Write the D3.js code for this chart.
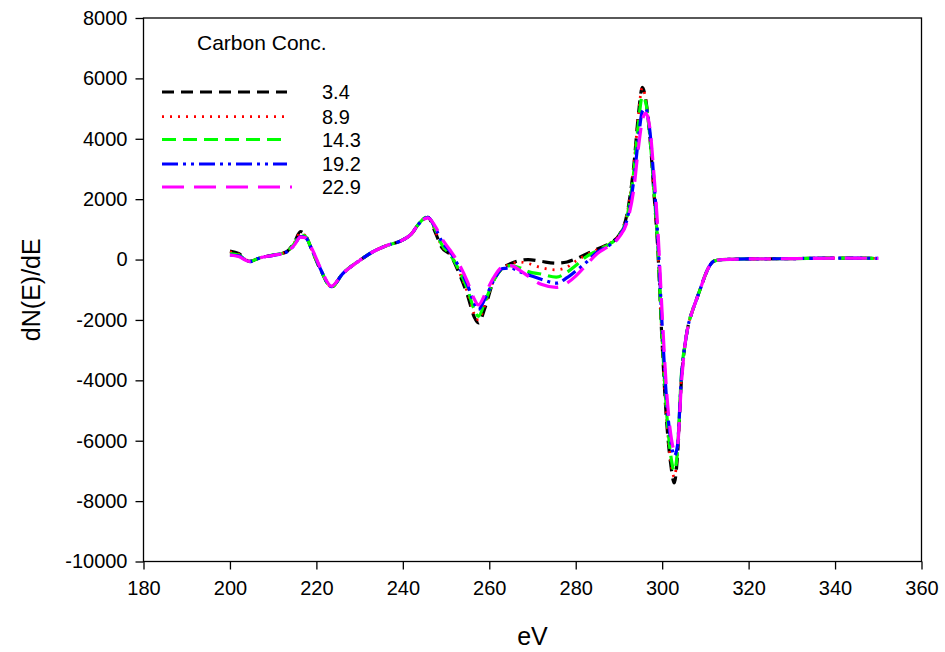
<!DOCTYPE html>
<html>
<head>
<meta charset="utf-8">
<script src="https://cdn.jsdelivr.net/npm/d3@7"></script>
<style>
html, body { margin: 0; padding: 0; background: #fff; }
svg { display: block; font-family: "Liberation Sans", Arial, sans-serif; }
</style>
</head>
<body>
<svg id="chart" width="945" height="652"></svg>
<script>
// ---- data ----
const eV = [200, 202, 204.5, 207, 210, 213, 215, 216.3, 217.5, 219, 221, 223.5, 226, 230, 233, 236, 240, 242, 243.5, 245.8,
  247.5, 249, 251, 253, 255, 256.5, 257.5, 259, 261, 263, 265, 267, 269, 272, 275.5, 278, 280, 282, 285, 288,
  290, 292, 293.5, 294.5, 295.4, 296.2, 297.2, 298, 299, 300, 301, 302, 302.8, 303.5, 304.5, 305.3, 306, 307, 308, 309,
  310, 311, 312, 314, 320, 330, 340, 350];

const c3_4 = [280, 200, -60, 60, 150, 250, 600, 930, 800, 300, -350, -900, -480, -30, 250, 450, 650, 850, 1150, 1400,
  900, 400, 150, -450, -1200, -1900, -2100, -1600, -700, -300, -130, -30, 0, -60, -120, -80, 20, 150, 350, 550,
  800, 1600, 3200, 4800, 5700, 5300, 4000, 2400, 300, -2800, -5300, -6800, -7400, -6600, -3900, -2800, -2200, -1700, -1300, -900,
  -500, -200, -50, 0, 20, 30, 50, 40];

const c8_9 = [250, 180, -60, 60, 150, 250, 580, 880, 780, 300, -350, -900, -480, -30, 250, 450, 650, 850, 1150, 1400,
  950, 450, 200, -400, -1100, -1800, -2000, -1500, -700, -300, -150, -80, -130, -270, -340, -250, -50, 120, 330, 550,
  800, 1600, 3200, 4800, 5700, 5300, 4000, 2400, 300, -2800, -5200, -6700, -7200, -6500, -3800, -2800, -2200, -1700, -1300, -900,
  -500, -200, -50, 0, 20, 30, 50, 40];

const c14_3 = [200, 150, -60, 60, 150, 250, 550, 820, 760, 300, -350, -920, -480, -30, 250, 450, 650, 850, 1150, 1430,
  1000, 500, 150, -350, -1000, -1650, -1880, -1400, -700, -300, -200, -270, -400, -480, -580, -420, -200, 50, 300, 530,
  780, 1500, 3000, 4500, 5400, 5200, 4000, 2500, 400, -2600, -5000, -6500, -7000, -6400, -3700, -2800, -2200, -1700, -1300, -900,
  -500, -200, -50, 0, 20, 30, 50, 40];

const c19_2 = [150, 120, -70, 60, 140, 240, 500, 760, 720, 320, -330, -900, -480, -30, 250, 450, 650, 850, 1150, 1400,
  1050, 600, 250, -250, -850, -1450, -1650, -1300, -700, -300, -280, -400, -500, -650, -780, -600, -380, -150, 250, 500,
  760, 1400, 2700, 4000, 4900, 5000, 4200, 2800, 700, -2200, -4600, -6000, -6500, -6200, -3800, -2800, -2200, -1700, -1300, -900,
  -500, -200, -50, 0, 20, 30, 50, 40];

const c22_9 = [150, 100, -60, 60, 140, 240, 500, 740, 720, 350, -300, -880, -480, -30, 250, 450, 650, 850, 1150, 1380,
  1100, 700, 300, -150, -750, -1300, -1500, -1150, -600, -250, -200, -350, -550, -820, -920, -780, -550, -250, 200, 480,
  740, 1300, 2400, 3700, 4600, 4850, 4300, 3000, 1000, -1800, -4300, -5800, -6300, -6200, -4000, -2800, -2200, -1700, -1300, -900,
  -500, -200, -50, 0, 20, 30, 50, 40];

const seriesNames = ["3.4", "8.9", "14.3", "19.2", "22.9"];
const seriesValues = [c3_4, c8_9, c14_3, c19_2, c22_9];
const legendTitle = "Carbon Conc.";
const xTicks = [180, 200, 220, 240, 260, 280, 300, 320, 340, 360];
const yTicks = [-10000, -8000, -6000, -4000, -2000, 0, 2000, 4000, 6000, 8000];

// ---- styles ----
const colors = ["#000000", "#ff0000", "#00ff00", "#0000ff", "#ff00ff"];
const dashes = ["12,7", "2,6", "14,7", "16,5,3,5,3,5", "22,10"];
const widths = [3.2, 2.8, 3.2, 3.2, 3.2];

const svg = d3.select("#chart");
const m = { left: 143.5, right: 921.5, top: 18, bottom: 561.5 };

const x = d3.scaleLinear().domain([180, 360]).range([m.left, m.right]);
const y = d3.scaleLinear().domain([-10000, 8000]).range([m.bottom, m.top]);

// frame
svg.append("rect")
  .attr("x", m.left).attr("y", m.top)
  .attr("width", m.right - m.left).attr("height", m.bottom - m.top)
  .attr("fill", "none").attr("stroke", "#000").attr("stroke-width", 1.3);

// axes
const xAxis = svg.append("g").attr("transform", `translate(0,${m.bottom})`)
  .call(d3.axisBottom(x).tickValues(xTicks).tickSize(8).tickPadding(11).tickFormat(d3.format("d")));
const yAxis = svg.append("g").attr("transform", `translate(${m.left},0)`)
  .call(d3.axisLeft(y).tickValues(yTicks).tickSize(8).tickPadding(8).tickFormat(d3.format("d")));
[xAxis, yAxis].forEach(g => {
  g.select(".domain").remove();
  g.selectAll(".tick line").attr("stroke", "#000").attr("stroke-width", 1.3);
  g.selectAll(".tick text").attr("fill", "#000").style("font-size", "20px")
    .style("font-family", "'Liberation Sans', Arial, sans-serif");
});
yAxis.selectAll(".tick text").text(d => d < 0 ? "-" + Math.abs(d) : d);

// axis titles
svg.append("text")
  .attr("x", x(270)).attr("y", 645)
  .attr("text-anchor", "middle")
  .style("font-size", "25px").text("eV");
svg.append("text")
  .attr("transform", `translate(40,${(m.top + m.bottom) / 2}) rotate(-90)`)
  .attr("text-anchor", "middle")
  .style("font-size", "25px").text("dN(E)/dE");

// lines
const line = d3.line().x(d => x(d[0])).y(d => y(d[1])).curve(d3.curveMonotoneX);
const plot = svg.append("g");
seriesValues.forEach((vals, i) => {
  const pts = eV.map((e, j) => [e, vals[j]]);
  plot.append("path").datum(pts)
    .attr("d", line)
    .attr("fill", "none")
    .attr("stroke", colors[i])
    .attr("stroke-width", widths[i])
    .attr("stroke-dasharray", dashes[i]);
});

// legend
const leg = svg.append("g");
leg.append("text").attr("x", 197).attr("y", 50).style("font-size", "21px").text(legendTitle);
const legY = [92, 116.7, 139.5, 164, 187];
seriesNames.forEach((name, i) => {
  leg.append("line")
    .attr("x1", 162).attr("x2", i === 4 ? 292 : 287)
    .attr("y1", legY[i]).attr("y2", legY[i])
    .attr("stroke", colors[i])
    .attr("stroke-width", widths[i])
    .attr("stroke-dasharray", dashes[i]);
  leg.append("text").attr("x", 322).attr("y", legY[i] + 7)
    .style("font-size", "20px").text(name);
});
</script>
</body>
</html>
